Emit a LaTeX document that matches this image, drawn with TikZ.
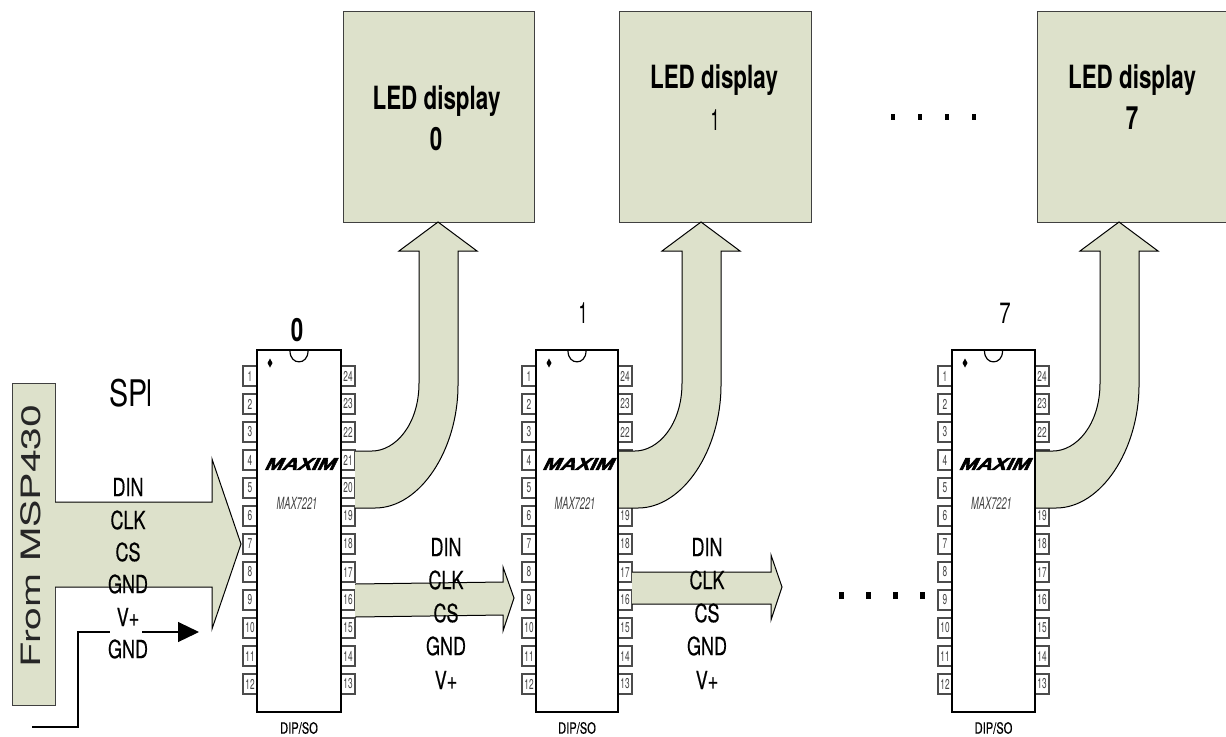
\documentclass[tikz,border=0pt]{standalone}
\usepackage{fontspec}
\usepackage{graphicx}
\usetikzlibrary{arrows.meta}
\setmainfont{TeX Gyre Heros}
\newfontfamily\sigfont[FakeBold=0.5]{TeX Gyre Heros}
\newfontfamily\logofont[FakeBold=3,FakeSlant=0.4]{Liberation Sans Bold}
\definecolor{panel}{HTML}{DDE1CB}
\definecolor{inkgray}{HTML}{444444}
\newcommand{\fs}[1]{\fontsize{#1}{#1}\selectfont}
\newcommand{\squeeze}[2]{\scalebox{#1}[1]{#2}}
\tikzset{
  x=0.75pt,y=-0.75pt,
  every node/.style={inner sep=0pt,outer sep=0pt},
  ledbox/.style={draw=black!75,fill=panel,line width=0.75pt,minimum height=158.25pt},
  panelfill/.style={fill=panel,draw=none},
  busline/.style={draw=black,line width=0.75pt,line join=miter},
  chipbody/.style={draw=black,line width=1.5pt,fill=white,minimum height=271.5pt},
  pinbox/.style={draw=black!70,line width=0.8pt,fill=white,minimum width=10.5pt,minimum height=15pt,text=inkgray,font=\fs{10.7}},
  siglabel/.style={font=\sigfont\fs{18.75},text=black},
  ledlabel/.style={font=\fs{24}\bfseries,text=black},
  numlabel/.style={font=\fs{22},text=black},
  dotmark/.style={fill=black,draw=none},
  wire/.style={draw=black,line width=0.9pt}
}
% chip: name, left edge, right edge
\newcommand{\chipic}[3]{%
  \pgfmathsetmacro{\cc}{(#2+#3)/2}
  \pgfmathsetmacro{\cw}{(#3-#2)*0.75}
  \pgfmathsetmacro{\pl}{#2-7}
  \pgfmathsetmacro{\pr}{#3+7}
  \foreach \i in {1,...,12}{
    \pgfmathsetmacro{\py}{376+28*(\i-1)}
    \pgfmathtruncatemacro{\rn}{25-\i}
    \node[pinbox] (#1l\i) at (\pl,\py) {\squeeze{0.58}{\i}};
    \node[pinbox] (#1r\rn) at (\pr,\py) {\squeeze{0.58}{\rn}};
  }
  \node[chipbody,minimum width=\cw pt] (#1) at (\cc,531) {};
  \draw[line width=0.9pt,black] (\cc-9,351) .. controls (\cc-9,365.5) and (\cc+9,365.5) .. (\cc+9,351);
  \fill[black] (#2+13,358.5) -- (#2+15.5,363) -- (#2+13,367.5) -- (#2+10.5,363) -- cycle;
  \node (#1logo) at (\cc,464) {\squeeze{1.25}{\logofont\fs{12.6}MAXIM}};
  \node[text=inkgray] (#1type) at (\cc-2,503) {\squeeze{0.55}{\fs{12.6}\itshape MAX7221}};
  \node[text=black] (#1pkg) at (\cc,728) {\squeeze{0.72}{\sigfont\fs{11.6}DIP/SO}};
}
% curved bus arrow: tip x, start x
\newcommand{\busarrow}[2]{%
  \path[panelfill] (#1,222) -- (#1+39,251) -- (#1+20,251) -- (#1+20,385)
    .. controls (#1+20,450) and (#1-18,508) .. (#1-63,508) -- (#2,508) -- (#2,451) -- (#1-66,451)
    .. controls (#1-43,451) and (#1-19,425) .. (#1-19,383) -- (#1-19,251) -- (#1-39,251) -- cycle;
  \draw[busline] (#2,508) -- (#1-63,508)
    .. controls (#1-18,508) and (#1+20,450) .. (#1+20,385) -- (#1+20,251) -- (#1+39,251) -- (#1,222)
    -- (#1-39,251) -- (#1-19,251) -- (#1-19,383)
    .. controls (#1-19,425) and (#1-43,451) .. (#1-66,451) -- (#2,451);
}
\newcommand{\sigs}[6]{%
  \node[siglabel] (#1a) at (#2,#3) {\squeeze{0.72}{DIN}};
  \node[siglabel] (#1b) at (#2,#4) {\squeeze{0.72}{CLK}};
  \node[siglabel] (#1c) at (#2,#5) {\squeeze{0.72}{CS}};
  \node[siglabel] (#1d) at (#2,#6) {\squeeze{0.72}{GND}};
}
\begin{document}
\begin{tikzpicture}
\useasboundingbox (0,0) rectangle (1226,736);
% LED boxes
\node[ledbox,minimum width=143.25pt] (led0) at (438.5,116.5) {};
\node[ledbox,minimum width=144pt] (led1) at (715,116.5) {};
\node[ledbox,minimum width=142.5pt] (led7) at (1132,116.5) {};
\node[ledlabel] (led0t) at (436.5,101) {\squeeze{0.70}{LED display}};
\node[ledlabel] (led0n) at (436,139) {\squeeze{0.70}{0}};
\node[ledlabel] (led1t) at (714,80) {\squeeze{0.70}{LED display}};
\node[numlabel] (led1n) at (715,120) {\squeeze{0.55}{1}};
\node[ledlabel] (led7t) at (1132,80) {\squeeze{0.70}{LED display}};
\node[ledlabel] (led7n) at (1132,118) {\squeeze{0.70}{7}};
% chips
\chipic{chipa}{257}{341}
\chipic{chipb}{536}{618}
\chipic{chipc}{952}{1035}
\node[ledlabel] (chipan) at (297,330) {\squeeze{0.70}{0}};
\node[numlabel] (chipbn) at (583,313) {\squeeze{0.55}{1}};
\node[numlabel] (chipcn) at (1005,313) {\squeeze{0.70}{7}};
% curved buses
\busarrow{438}{355}
\busarrow{701}{619}
\busarrow{1119}{1036}
% source block
\node[draw=black!75,fill=panel,line width=0.75pt,minimum width=32.25pt,minimum height=241.5pt] (src) at (33.5,544) {};
\node[rotate=90,text=black!85] (srct) at (31,536) {\scalebox{1.54}[1]{\fs{20}From MSP430}};
% big SPI arrow
\path[panelfill] (55,502) -- (212,502) -- (212,459) -- (241,544) -- (212,629) -- (212,587) -- (55,587) -- cycle;
\draw[busline] (55,502) -- (212,502) -- (212,459) -- (241,544) -- (212,629) -- (212,587) -- (55,587);
% small arrows
\path[panelfill] (355,584) -- (503,582) -- (503,567) -- (514,598) -- (503,631) -- (503,615) -- (355,617) -- cycle;
\draw[busline] (355,584) -- (503,582) -- (503,567) -- (514,598) -- (503,631) -- (503,615) -- (355,617);
\path[panelfill] (632,572) -- (771,572) -- (771,555) -- (782,587) -- (771,620) -- (771,604) -- (632,604) -- cycle;
\draw[busline] (632,572) -- (771,572) -- (771,555) -- (782,587) -- (771,620) -- (771,604) -- (632,604);
% SPI: the final letter is cut off in the source
\begin{scope}
\clip (100,370) rectangle (149.3,420);
\node[text=black,anchor=west] (spi) at (109.5,393) {\scalebox{0.78}[1]{\fs{27.5}SP\kern-2.5pt I}};
\end{scope}
% signal labels
\sigs{a}{128}{487}{520}{552}{584}
\node[siglabel] (ae) at (128,617) {\squeeze{0.72}{V+}};
\node[siglabel] (af) at (128,649) {\squeeze{0.72}{GND}};
\sigs{b}{446}{547}{580}{613}{646}
\node[siglabel] (be) at (446,680) {\squeeze{0.72}{V+}};
\sigs{c}{707}{547}{580}{613}{646}
\node[siglabel] (ce) at (707,680) {\squeeze{0.72}{V+}};
% ground wire
\coordinate (wa) at (32,727);
\coordinate (wb) at (78,727);
\coordinate (wc) at (78,632);
\coordinate (wd) at (110,632);
\coordinate (we) at (142,632);
\coordinate (wf) at (199,632);
\draw[wire] (wa) -- (wb) -- (wc) -- (wd);
\draw[wire,-{Triangle[length=15.75pt,width=15pt]}] (we) -- (wf);
% ellipsis dots
\foreach \dx in {893,920,947,974}{\fill[dotmark] (\dx-2,114) rectangle (\dx+2,120);}
\foreach \dx in {841,868,895,922}{\fill[dotmark] (\dx-2.5,591.5) rectangle (\dx+2.5,598.5);}
\end{tikzpicture}
\end{document}
